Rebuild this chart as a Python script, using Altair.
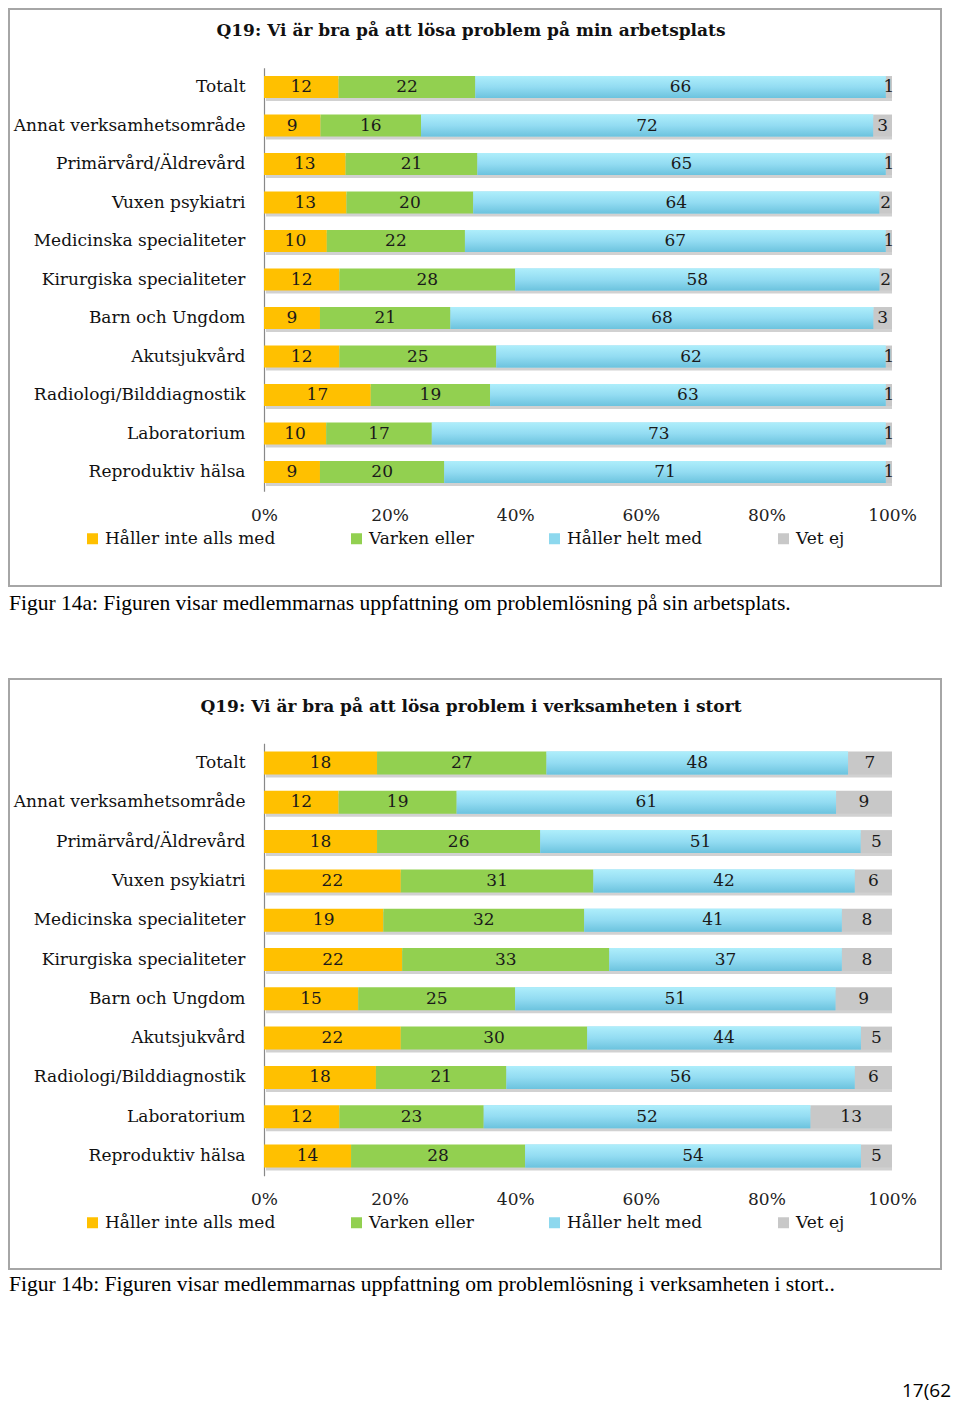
import altair as alt
import pandas as pd

categories = ["Totalt", "Annat verksamhetsområde", "Primärvård/Äldrevård", "Vuxen psykiatri",
              "Medicinska specialiteter", "Kirurgiska specialiteter", "Barn och Ungdom",
              "Akutsjukvård", "Radiologi/Bilddiagnostik", "Laboratorium", "Reproduktiv hälsa"]
series = ["Håller inte alls med", "Varken eller", "Håller helt med", "Vet ej"]
colors = ["#FFC000", "#92D050", "#8DD8EE", "#C8C8C8"]
tick_values = [0, 0.2, 0.4, 0.6, 0.8, 1.0]

a_inte = [12, 9, 13, 13, 10, 12, 9, 12, 17, 10, 9]
a_varken = [22, 16, 21, 20, 22, 28, 21, 25, 19, 17, 20]
a_helt = [66, 72, 65, 64, 67, 58, 68, 62, 63, 73, 71]
a_vetej = [1, 3, 1, 2, 1, 2, 3, 1, 1, 1, 1]

b_inte = [18, 12, 18, 22, 19, 22, 15, 22, 18, 12, 14]
b_varken = [27, 19, 26, 31, 32, 33, 25, 30, 21, 23, 28]
b_helt = [48, 61, 51, 42, 41, 37, 51, 44, 56, 52, 54]
b_vetej = [7, 9, 5, 6, 8, 8, 9, 5, 6, 13, 5]

title_a = "Q19: Vi är bra på att lösa problem på min arbetsplats"
title_b = "Q19: Vi är bra på att lösa problem i verksamheten i stort"
caption_a = "Figur 14a: Figuren visar medlemmarnas uppfattning om problemlösning på sin arbetsplats."
caption_b = "Figur 14b: Figuren visar medlemmarnas uppfattning om problemlösning i verksamheten i stort.."
page_no = "17(62"

SERIF = "DejaVu Serif"


def make_df(cols):
    rows = []
    for s_i, (s, vals) in enumerate(zip(series, cols)):
        for c, v in zip(categories, vals):
            rows.append({"cat": c, "series": s, "order": s_i, "value": v})
    return pd.DataFrame(rows)


def panel(cols, title, caption, view_h, y_range, pad_inner, title_y, x_off, legend_y,
          caption_y, extra_text=None):
    df = make_df(cols)
    base = alt.Chart(df).transform_joinaggregate(
        total="sum(value)", groupby=["cat"]
    ).transform_calculate(
        pct="datum.value / datum.total"
    ).transform_stack(
        stack="pct", groupby=["cat"], as_=["x0", "x1"],
        sort=[alt.SortField("order", order="ascending")]
    ).transform_calculate(
        mid="(datum.x0 + datum.x1) / 2", zero="0"
    )

    xs = alt.Scale(domain=[0, 1], range=[255, 883], nice=False, zero=False)
    xaxis = alt.Axis(values=tick_values, format=".0%", domain=False, ticks=False, grid=False,
                     labelFont=SERIF, labelFontSize=17, labelColor="#222", labelPadding=0,
                     offset=x_off, labelFlush=False, labelBound=False, title=None)
    yenc = alt.Y("cat:N", sort=categories, title=None,
                 scale=alt.Scale(range=y_range, paddingInner=pad_inner,
                                 paddingOuter=pad_inner / 2, round=False),
                 axis=alt.Axis(domainColor="#888", domainWidth=1.2, ticks=False, tickSize=0,
                               labelPadding=19, labelFont=SERIF, labelFontSize=17,
                               labelColor="#111", offset=-255, labelLimit=400, grid=False))

    shadow = base.transform_filter(alt.datum.series == "Vet ej").mark_bar(
        color="#9a9a9a", opacity=0.45, yOffset=3, xOffset=2
    ).encode(x=alt.X("zero:Q", scale=xs, axis=xaxis), x2="x1:Q", y=yenc)

    bars = base.mark_bar().encode(
        x=alt.X("x0:Q", scale=xs, axis=xaxis),
        x2="x1:Q",
        y=yenc,
        color=alt.Color("series:N", sort=series,
                        scale=alt.Scale(domain=series, range=colors),
                        legend=alt.Legend(orient="none", legendX=75, legendY=legend_y,
                                          direction="horizontal", columns=4,
                                          columnPadding=72, title=None,
                                          symbolType="square", symbolSize=121,
                                          symbolStrokeWidth=0, labelOffset=4,
                                          labelFont=SERIF, labelFontSize=17,
                                          labelColor="#111", labelLimit=400)),
    )

    blue_grad = base.transform_filter(alt.datum.series == "Håller helt med").mark_bar(
        color=alt.Gradient(gradient="linear",
                           stops=[alt.GradientStop(color="#AEEEFB", offset=0),
                                  alt.GradientStop(color="#93DCF2", offset=0.5),
                                  alt.GradientStop(color="#6CC3DE", offset=1)],
                           x1=0, x2=0, y1=0, y2=1)
    ).encode(x=alt.X("x0:Q", scale=xs, axis=xaxis), x2="x1:Q", y=yenc)

    labels = base.mark_text(font=SERIF, fontSize=17, color="#1a1a1a", baseline="middle").encode(
        x=alt.X("mid:Q", scale=xs, axis=xaxis), y=yenc, text="value:Q"
    )

    title_mark = alt.Chart(pd.DataFrame({"t": [title]})).mark_text(
        font=SERIF, fontSize=17, fontWeight="bold", color="#111", align="center",
        baseline="middle"
    ).encode(text="t:N", x=alt.value(462), y=alt.value(title_y))

    cap_mark = alt.Chart(pd.DataFrame({"t": [caption]})).mark_text(
        font="Liberation Serif", fontSize=21.5, color="#000", align="left", baseline="middle"
    ).encode(text="t:N", x=alt.value(0), y=alt.value(caption_y))

    layers = [shadow, bars, blue_grad, labels, title_mark, cap_mark]
    if extra_text is not None:
        layers.append(alt.Chart(pd.DataFrame({"t": [extra_text]})).mark_text(
            font="Open Sans", fontSize=19, color="#000", align="right", baseline="middle"
        ).encode(text="t:N", x=alt.value(942), y=alt.value(712)))

    return alt.layer(*layers).properties(width=932, height=view_h)


p1 = panel([a_inte, a_varken, a_helt, a_vetej], title_a, caption_a, 577,
           [58.75, 482.25], 0.43, 22, -79, 521, 595)
p2 = panel([b_inte, b_varken, b_helt, b_vetej], title_b, caption_b, 590,
           [64.35, 496.65], 0.415, 28, -78, 535, 606, extra_text=page_no)

chart = alt.vconcat(p1, p2, spacing=93, bounds="flush").configure(
    padding=0, background="white"
).configure_view(stroke="#A6A6A6", strokeWidth=2).resolve_scale(color="independent")

chart.save("out.html", embed_options={"renderer": "svg", "actions": False})
